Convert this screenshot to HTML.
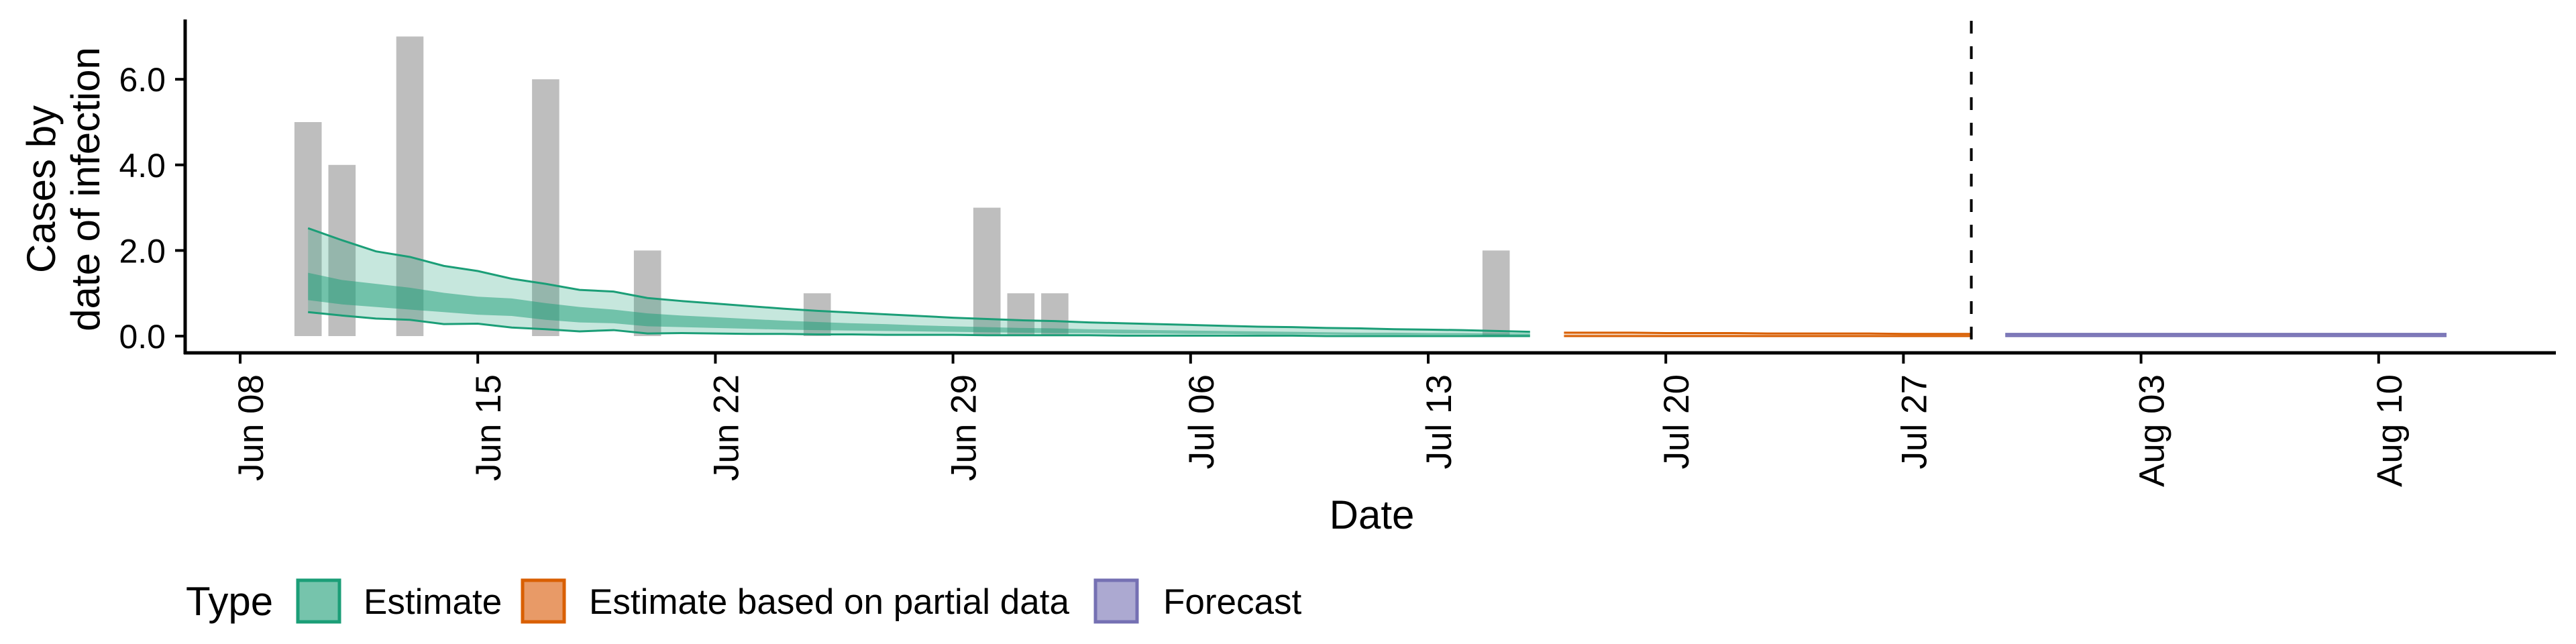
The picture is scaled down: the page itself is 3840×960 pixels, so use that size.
<!DOCTYPE html>
<html><head><meta charset="utf-8">
<style>
html,body{margin:0;padding:0;background:#fff;}
svg{display:block;font-family:"Liberation Sans",sans-serif;}
</style></head>
<body>
<svg id="chart" width="3840" height="960" viewBox="0 0 3840 960" xmlns="http://www.w3.org/2000/svg">
  <rect x="0" y="0" width="3840" height="960" fill="#fff"/>
  <g id="bars"></g>
  <g id="ribbons"></g>
  <g id="axes"></g>
  <text x="0" y="0" transform="translate(82,282) rotate(-90)" text-anchor="middle" font-size="60">Cases by</text>
  <text x="0" y="0" transform="translate(148,282) rotate(-90)" text-anchor="middle" font-size="60">date of infection</text>
  <text x="2045" y="788" text-anchor="middle" font-size="60">Date</text>
  <g>
    <text x="277" y="917" font-size="60">Type</text>
    <rect x="444" y="865" width="62" height="62" fill="#76C4AC" stroke="#1B9E77" stroke-width="5"/>
    <text x="542" y="915" font-size="53">Estimate</text>
    <rect x="779" y="865" width="62" height="62" fill="#E89A67" stroke="#D95F02" stroke-width="5"/>
    <text x="878" y="915" font-size="53">Estimate based on partial data</text>
    <rect x="1633" y="865" width="62" height="62" fill="#ACA9D1" stroke="#7570B3" stroke-width="5"/>
    <text x="1734" y="915" font-size="53">Forecast</text>
  </g>
</svg>
<script>
const barDates = ["2020-06-10","2020-06-11","2020-06-13","2020-06-17","2020-06-20","2020-06-25","2020-06-30","2020-07-01","2020-07-02","2020-07-15"];
const barCounts = [5,4,7,6,2,1,3,1,1,2];

const estStart = "2020-06-10";
const estUpper90 = [2.52,2.24,1.98,1.85,1.64,1.52,1.34,1.22,1.08,1.04,0.89,0.82,0.76,0.70,0.64,0.59,0.55,0.51,0.47,0.43,0.40,0.37,0.35,0.32,0.30,0.28,0.26,0.24,0.22,0.21,0.19,0.18,0.16,0.15,0.14,0.12,0.10];
const estUpper50 = [1.48,1.31,1.22,1.13,1.01,0.92,0.88,0.77,0.68,0.62,0.53,0.48,0.44,0.40,0.36,0.33,0.30,0.28,0.25,0.23,0.21,0.19,0.18,0.16,0.15,0.14,0.13,0.12,0.11,0.10,0.09,0.08,0.08,0.07,0.07,0.06,0.06];
const estLower50 = [0.84,0.74,0.68,0.62,0.56,0.50,0.47,0.38,0.32,0.30,0.23,0.21,0.19,0.17,0.15,0.14,0.13,0.12,0.11,0.10,0.09,0.08,0.07,0.07,0.06,0.06,0.05,0.05,0.04,0.04,0.04,0.03,0.03,0.03,0.03,0.02,0.02];
const estLower90 = [0.56,0.48,0.41,0.38,0.28,0.29,0.20,0.16,0.11,0.14,0.06,0.07,0.06,0.05,0.05,0.04,0.04,0.03,0.03,0.03,0.02,0.02,0.02,0.02,0.01,0.01,0.01,0.01,0.01,0.01,0,0,0,0,0,0,0];

const partStart = "2020-07-17";
const partUpper90 = [0.08,0.08,0.08,0.07,0.07,0.07,0.06,0.06,0.06,0.06,0.05,0.05,0.05];
const partLower90 = [0,0,0,0,0,0,0,0,0,0,0,0,0];

const foreStart = "2020-07-30";
const foreUpper90 = [0.05,0.05,0.05,0.05,0.05,0.05,0.05,0.05,0.05,0.05,0.05,0.05,0.05,0.05];
const foreLower90 = [0,0,0,0,0,0,0,0,0,0,0,0,0,0];

const cutoffDate = "2020-07-29";
const xTickDates = ["2020-06-08","2020-06-15","2020-06-22","2020-06-29","2020-07-06","2020-07-13","2020-07-20","2020-07-27","2020-08-03","2020-08-10"];
const xTickLabels = ["Jun 08","Jun 15","Jun 22","Jun 29","Jul 06","Jul 13","Jul 20","Jul 27","Aug 03","Aug 10"];
const yTicks = [0,2,4,6];
const yTickLabels = ["0.0","2.0","4.0","6.0"];

const NS = "http://www.w3.org/2000/svg";
const origin = Date.UTC(2020,5,8);
function dayOf(s){const p=s.split("-");return (Date.UTC(+p[0],+p[1]-1,+p[2])-origin)/86400000;}
function xScale(d){return 358 + d*50.6;}
function yScale(v){return 501 - v*63.8;}
function mk(tag, attrs, parent){const e=document.createElementNS(NS,tag);for(const k in attrs)e.setAttribute(k,attrs[k]);parent.appendChild(e);return e;}

const barsG = document.getElementById("bars");
barDates.forEach((d,i)=>{
  const cx = xScale(dayOf(d));
  const r = mk("rect",{x:cx-20.3,y:yScale(barCounts[i]),width:40.6,height:yScale(0)-yScale(barCounts[i]),fill:"#BEBEBE"},barsG);
  
  
});

const ribG = document.getElementById("ribbons");
function band(start, up, lo, fill, op, name){
  const s = dayOf(start);
  let pts = up.map((v,i)=>xScale(s+i)+","+yScale(v));
  for(let i=lo.length-1;i>=0;i--) pts.push(xScale(s+i)+","+yScale(lo[i]));
  const p = mk("polygon",{points:pts.join(" "),fill:fill,"fill-opacity":op},ribG);
  
  
}
function edge(start, vals, color, name){
  const s = dayOf(start);
  const p = mk("polyline",{points:vals.map((v,i)=>xScale(s+i)+","+yScale(v)).join(" "),fill:"none",stroke:color,"stroke-width":3},ribG);
  
  
}
band(estStart, estUpper90, estLower90, "#1B9E77", 0.25, "estimate-90-band");
band(estStart, estUpper50, estLower50, "#1B9E77", 0.5, "estimate-50-band");
edge(estStart, estUpper90, "#1B9E77", "estimate-upper-line");
edge(estStart, estLower90, "#1B9E77", "estimate-lower-line");
band(partStart, partUpper90, partLower90, "#D95F02", 0.25, "partial-90-band");
edge(partStart, partUpper90, "#D95F02", "partial-upper-line");
edge(partStart, partLower90, "#D95F02", "partial-lower-line");
band(foreStart, foreUpper90, foreLower90, "#7570B3", 0.25, "forecast-90-band");
edge(foreStart, foreUpper90, "#7570B3", "forecast-upper-line");
edge(foreStart, foreLower90, "#7570B3", "forecast-lower-line");

const ax = document.getElementById("axes");
const cx = xScale(dayOf(cutoffDate));
const dash = mk("line",{x1:cx,x2:cx,y1:31,y2:526,stroke:"#000","stroke-width":4,"stroke-dasharray":"19 19"},ax);


const yAx = mk("line",{x1:276,x2:276,y1:29,y2:528,stroke:"#000","stroke-width":5},ax);


const xAx = mk("line",{x1:274,x2:3810,y1:526,y2:526,stroke:"#000","stroke-width":5},ax);


yTicks.forEach((v,i)=>{
  const y = yScale(v);
  const t = mk("line",{x1:261,x2:276,y1:y,y2:y,stroke:"#000","stroke-width":4},ax);
  
  
  const l = mk("text",{x:247,y:y+18,"text-anchor":"end","font-size":50},ax);
  l.textContent = yTickLabels[i];
  
  
});
xTickDates.forEach((d,i)=>{
  const x = xScale(dayOf(d));
  const t = mk("line",{x1:x,x2:x,y1:526,y2:542,stroke:"#000","stroke-width":4},ax);
  
  
  const l = mk("text",{x:0,y:0,transform:"translate("+(x+34)+",558) rotate(-90)","text-anchor":"end","font-size":53},ax);
  l.textContent = xTickLabels[i];
  
  
});
</script>
</body></html>
